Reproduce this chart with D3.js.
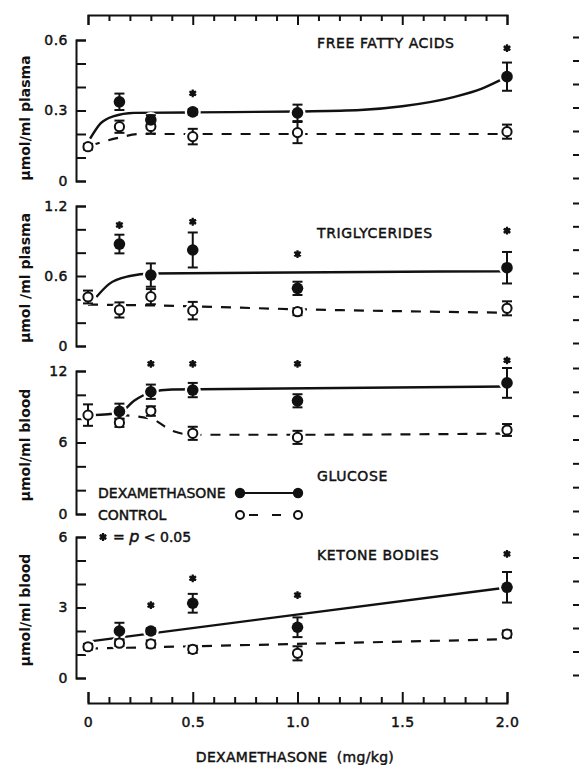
<!DOCTYPE html>
<html>
<head>
<meta charset="utf-8">
<script src="https://cdn.jsdelivr.net/npm/d3@7"></script>
<style>
  body { margin: 0; background: #fff; }
  text { font-family: "DejaVu Sans", sans-serif; fill: #111; }
  .lettering { stroke: #111; stroke-width: 0.45px; }
</style>
</head>
<body>
<div id="chart"></div>
<script>
// Dexamethasone dose (mg/kg) for every group
const doses = [0, 0.15, 0.3, 0.5, 1.0, 2.0];

// Free fatty acids (umol/ml plasma)
const ffaDex = [null, 0.337, 0.26, 0.294, 0.29, 0.444];
const ffaDexErr = [null, 0.035, 0.02, 0.012, 0.035, 0.06];
const ffaCtl = [0.146, 0.231, 0.232, 0.189, 0.206, 0.21];
const ffaCtlErr = [0.012, 0.026, 0.03, 0.033, 0.045, 0.03];
const ffaStars = [null, null, null, 0.373, null, 0.565];
const ffaDexFit = [[0.01, 0.18], [0.06, 0.245], [0.12, 0.275], [0.22, 0.29], [0.5, 0.292], [1.0, 0.296], [1.3, 0.302], [1.5, 0.318], [1.75, 0.358], [1.88, 0.393], [1.97, 0.43]];
const ffaCtlFit = [[0.01, 0.15], [0.15, 0.185], [0.25, 0.2], [2.0, 0.2]];

// Triglycerides (umol/ml plasma)
const tgDex = [null, 0.874, 0.608, 0.823, 0.494, 0.671];
const tgDexErr = [null, 0.08, 0.1, 0.15, 0.057, 0.135];
const tgCtl = [0.42, 0.309, 0.423, 0.303, 0.294, 0.323];
const tgCtlErr = [0.055, 0.065, 0.065, 0.075, 0.03, 0.06];
const tgStars = [null, 1.037, null, 1.065, 0.788, 0.988];
const tgDexFit = [[0.04, 0.42], [0.1, 0.53], [0.2, 0.6], [0.3, 0.622], [2.0, 0.64]];
const tgCtlFit = [[0.0, 0.355], [0.3, 0.348], [1.0, 0.315], [2.0, 0.285]];

// Glucose (umol/ml blood)
const gluDex = [null, 8.61, 10.26, 10.4, 9.5, 11.0];
const gluDexErr = [null, 0.65, 0.6, 0.6, 0.55, 1.25];
const gluCtl = [8.3, 7.66, 8.64, 6.77, 6.43, 7.05];
const gluCtlErr = [0.9, 0.35, 0.4, 0.55, 0.55, 0.5];
const gluStars = [null, null, 12.6, 12.6, 12.6, 12.9];
const gluDexFit = [[0.02, 8.3], [0.15, 8.5], [0.22, 9.5], [0.3, 10.2], [0.4, 10.45], [2.0, 10.7]];
const gluCtlFit = [[0.15, 8.3], [0.3, 8.0], [0.4, 7.0], [0.5, 6.65], [1.0, 6.65], [2.0, 6.75]];

// Ketone bodies (umol/ml blood)
const ketDex = [null, 2.0, 2.0, 3.18, 2.16, 3.86];
const ketDexErr = [null, 0.35, 0.12, 0.4, 0.42, 0.65];
const ketCtl = [1.33, 1.48, 1.45, 1.22, 1.05, 1.87];
const ketCtlErr = [0.12, 0.12, 0.15, 0.15, 0.3, 0.15];
const ketStars = [null, null, 3.1, 4.24, 3.53, 5.28];
const ketDexFit = [[0.0, 1.55], [2.0, 3.85]];
const ketCtlFit = [[0.0, 1.25], [2.0, 1.65]];

// Tick values and labels
const ffaTicks = [0, 0.1, 0.2, 0.3, 0.4, 0.5, 0.6];
const ffaLabels = [0, 0.3, 0.6];
const tgTicks = [0, 0.2, 0.4, 0.6, 0.8, 1.0, 1.2];
const tgLabels = [0, 0.6, 1.2];
const gluTicks = [0, 2, 4, 6, 8, 10, 12];
const gluLabels = [0, 6, 12];
const ketTicks = [0, 1, 2, 3, 4, 5, 6];
const ketLabels = [0, 3, 6];
const xMajor = [0, 0.5, 1.0, 1.5, 2.0];
const xMinor = [0.1, 0.2, 0.3, 0.4, 0.6, 0.7, 0.8, 0.9, 1.1, 1.2, 1.3, 1.4, 1.6, 1.7, 1.8, 1.9];

const width = 579;
const height = 765;

const svg = d3.select("#chart")
  .append("svg")
  .attr("width", width)
  .attr("height", height);

// shared dose scale
const x = d3.scaleLinear().domain([0, 2]).range([88, 507]);

// panel layout
const panels = [
  { title: "FREE FATTY ACIDS", unit: "\u00b5mol/ml plasma", max: 0.6, top: 40, bottom: 181, titleY: 48, unitY: 118,
    ticks: ffaTicks, labels: ffaLabels, dex: ffaDex, dexErr: ffaDexErr, ctl: ffaCtl, ctlErr: ffaCtlErr,
    stars: ffaStars, dexFit: ffaDexFit, ctlFit: ffaCtlFit },
  { title: "TRIGLYCERIDES", unit: "\u00b5mol /ml plasma", max: 1.2, top: 206, bottom: 346, titleY: 238, unitY: 278,
    ticks: tgTicks, labels: tgLabels, dex: tgDex, dexErr: tgDexErr, ctl: tgCtl, ctlErr: tgCtlErr,
    stars: tgStars, dexFit: tgDexFit, ctlFit: tgCtlFit },
  { title: "GLUCOSE", unit: "\u00b5mol/ml blood", max: 12, top: 371, bottom: 514, titleY: 481, unitY: 445,
    ticks: gluTicks, labels: gluLabels, dex: gluDex, dexErr: gluDexErr, ctl: gluCtl, ctlErr: gluCtlErr,
    stars: gluStars, dexFit: gluDexFit, ctlFit: gluCtlFit },
  { title: "KETONE BODIES", unit: "\u00b5mol/ml blood", max: 6, top: 537, bottom: 678, titleY: 560, unitY: 610,
    ticks: ketTicks, labels: ketLabels, dex: ketDex, dexErr: ketDexErr, ctl: ketCtl, ctlErr: ketCtlErr,
    stars: ketStars, dexFit: ketDexFit, ctlFit: ketCtlFit }
];

const asterisk = d3.symbol().type(d3.symbolAsterisk).size(42);
const starCore = d3.symbol().type(d3.symbolSquare).size(26);

// draws one significance mark
function drawStar(parent, cx, cy) {
  const g = parent.append("g").attr("transform", `translate(${cx},${cy})`);
  g.append("path").attr("d", asterisk).attr("fill", "none").attr("stroke", "#111").attr("stroke-width", 2.2);
  g.append("path").attr("d", starCore).attr("fill", "#111");
}

function styleAxis(g) {
  g.selectAll("path, line").attr("stroke", "#111").attr("stroke-width", 2);
  g.selectAll("text").attr("font-size", "14px").attr("fill", "#111").attr("class", "lettering");
}

panels.forEach(function (p) {
  const y = d3.scaleLinear().domain([0, p.max]).range([p.bottom, p.top]);
  const fmt = d => p.labels.includes(d) ? (d === 0 ? "0" : String(d)) : "";

  // left axis, ticks pointing inward
  svg.append("g")
    .attr("transform", "translate(76,0)")
    .call(d3.axisLeft(y).tickValues(p.ticks).tickFormat(fmt).tickSize(-10).tickSizeOuter(-10).tickPadding(8))
    .call(styleAxis)
    .call(g => g.selectAll("text").attr("letter-spacing", "0.5px"));

  // right axis ticks along the edge
  svg.append("g")
    .attr("transform", "translate(581,-3)")
    .call(d3.axisLeft(y).tickValues(p.ticks).tickFormat("").tickSize(8).tickSizeOuter(0))
    .call(styleAxis);

  // panel title
  svg.append("text")
    .attr("class", "lettering")
    .attr("x", 317)
    .attr("y", p.titleY)
    .attr("font-size", "14px")
    .attr("letter-spacing", "0.6px")
    .text(p.title);

  // unit label
  svg.append("text")
    .attr("transform", `translate(30,${p.unitY}) rotate(-90)`)
    .attr("text-anchor", "middle")
    .attr("font-size", "14px")
    .attr("font-weight", "bold")
    .text(p.unit);

  const line = d3.line().x(d => x(d[0])).y(d => y(d[1])).curve(d3.curveMonotoneX);

  // fitted curves
  svg.append("path")
    .attr("d", line(p.ctlFit))
    .attr("fill", "none")
    .attr("stroke", "#111")
    .attr("stroke-width", 2.2)
    .attr("stroke-dasharray", "10,9");

  svg.append("path")
    .attr("d", line(p.dexFit))
    .attr("fill", "none")
    .attr("stroke", "#111")
    .attr("stroke-width", 2.4);

  const ctlPts = doses.map((d, i) => ({ dose: d, v: p.ctl[i], e: p.ctlErr[i] })).filter(d => d.v != null);
  const dexPts = doses.map((d, i) => ({ dose: d, v: p.dex[i], e: p.dexErr[i] })).filter(d => d.v != null);
  const allPts = ctlPts.concat(dexPts);

  // white halo leaves a gap in the curves round each point
  svg.selectAll(null)
    .data(allPts)
    .enter()
    .append("circle")
    .attr("cx", d => x(d.dose))
    .attr("cy", d => y(d.v))
    .attr("r", 8)
    .attr("fill", "#fff");

  // error bars
  const bars = svg.append("g").attr("stroke", "#111").attr("stroke-width", 2);
  allPts.forEach(function (d) {
    const cx = x(d.dose);
    const y1 = y(d.v + d.e);
    const y0 = y(d.v - d.e);
    bars.append("line").attr("x1", cx).attr("x2", cx).attr("y1", y1).attr("y2", y0);
    bars.append("line").attr("x1", cx - 5).attr("x2", cx + 5).attr("y1", y1).attr("y2", y1);
    bars.append("line").attr("x1", cx - 5).attr("x2", cx + 5).attr("y1", y0).attr("y2", y0);
  });

  // control points (open)
  svg.selectAll(null)
    .data(ctlPts)
    .enter()
    .append("circle")
    .attr("cx", d => x(d.dose))
    .attr("cy", d => y(d.v))
    .attr("r", 4.6)
    .attr("fill", "#fff")
    .attr("stroke", "#111")
    .attr("stroke-width", 2);

  // dexamethasone points (filled)
  svg.selectAll(null)
    .data(dexPts)
    .enter()
    .append("circle")
    .attr("cx", d => x(d.dose))
    .attr("cy", d => y(d.v))
    .attr("r", 5.8)
    .attr("fill", "#111");

  // significance stars
  doses.forEach(function (d, i) {
    if (p.stars[i] != null) drawStar(svg, x(d), y(p.stars[i]));
  });
});

// top axis, ticks pointing down
svg.append("g")
  .attr("transform", "translate(0,15)")
  .call(d3.axisTop(x).tickValues(xMajor).tickFormat("").tickSize(-10).tickSizeOuter(-10))
  .call(styleAxis);
svg.append("g")
  .attr("transform", "translate(0,15)")
  .call(d3.axisTop(x).tickValues(xMinor).tickFormat("").tickSize(-6).tickSizeOuter(0))
  .call(styleAxis)
  .call(g => g.select(".domain").remove());

// bottom axis, ticks pointing up
svg.append("g")
  .attr("transform", "translate(0,703)")
  .call(d3.axisBottom(x).tickValues(xMajor).tickFormat(d => d === 0 ? "0" : d.toFixed(1)).tickSize(-11).tickSizeOuter(-11).tickPadding(14))
  .call(styleAxis)
  .call(g => g.selectAll("text").attr("letter-spacing", "0.5px"));
svg.append("g")
  .attr("transform", "translate(0,703)")
  .call(d3.axisBottom(x).tickValues(xMinor).tickFormat("").tickSize(-6).tickSizeOuter(0))
  .call(styleAxis)
  .call(g => g.select(".domain").remove());

svg.append("text")
  .attr("class", "lettering")
  .attr("x", 295)
  .attr("y", 762)
  .attr("text-anchor", "middle")
  .attr("font-size", "14px")
  .attr("letter-spacing", "0.3px")
  .attr("xml:space", "preserve")
  .text("DEXAMETHASONE  (mg/kg)");

// legend
const legend = svg.append("g");
legend.append("text").attr("class", "lettering").attr("x", 98).attr("y", 498).attr("font-size", "14px").text("DEXAMETHASONE");
legend.append("text").attr("class", "lettering").attr("x", 98).attr("y", 520).attr("font-size", "14px").text("CONTROL");
legend.append("line").attr("x1", 240).attr("x2", 298).attr("y1", 493).attr("y2", 493)
  .attr("stroke", "#111").attr("stroke-width", 2);
legend.append("line").attr("x1", 246).attr("x2", 292).attr("y1", 515).attr("y2", 515)
  .attr("stroke", "#111").attr("stroke-width", 2).attr("stroke-dasharray", "9,14").attr("stroke-dashoffset", -3);
[240, 298].forEach(function (cx) {
  legend.append("circle").attr("cx", cx).attr("cy", 493).attr("r", 5.2).attr("fill", "#111");
  legend.append("circle").attr("cx", cx).attr("cy", 515).attr("r", 4).attr("fill", "#fff")
    .attr("stroke", "#111").attr("stroke-width", 2);
});
drawStar(legend, 103, 537);
const sig = legend.append("text").attr("class", "lettering").attr("x", 113).attr("y", 542).attr("font-size", "14px").attr("xml:space", "preserve");
sig.append("tspan").text("= ");
sig.append("tspan").attr("font-style", "italic").attr("font-size", "16px").text("p");
sig.append("tspan").text(" < 0.05");
</script>
</body>
</html>
